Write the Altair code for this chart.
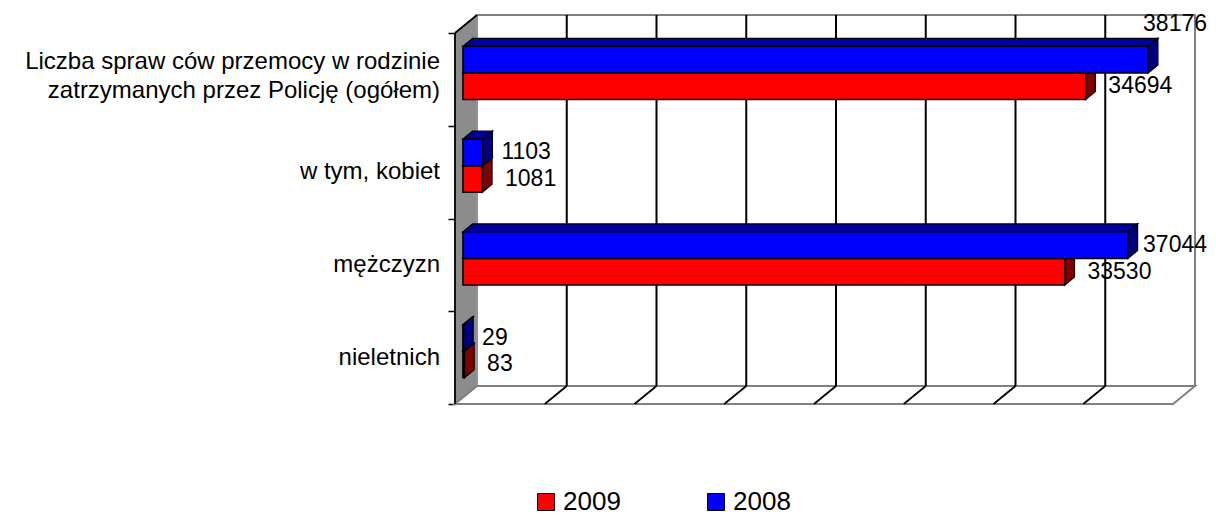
import altair as alt
import pandas as pd

# ---------------- data ----------------
categories = [
    "Liczba spraw ców przemocy w rodzinie\nzatrzymanych przez Policję (ogółem)",
    "w tym, kobiet",
    "mężczyzn",
    "nieletnich",
]
series = ["2009", "2008"]
values_2009 = [34694, 1081, 33530, 83]
values_2008 = [38176, 1103, 37044, 29]
x_ticks = [0, 5000, 10000, 15000, 20000, 25000, 30000, 35000, 40000]
x_max = 40000

# ---------------- geometry / style ----------------
W, H = 740, 389                 # plot area (px)
PAD_L, PAD_T, PAD_R, PAD_B = 447, 7, 13, 112
CANVAS_RIGHT = PAD_L + W + PAD_R  # px, chart coordinates
DEPTH_PX_X, DEPTH_PX_Y = 22, 18  # oblique depth of the 3D box (px)
DX = DEPTH_PX_X * x_max / (W - DEPTH_PX_X)          # depth in value units
BAND_PX = (H - DEPTH_PX_Y) / len(categories)
DY = DEPTH_PX_Y / BAND_PX                            # depth in slot units
U_PER_PX = (x_max + DX) / W
ZF, ZB = 0.36, 0.80              # bar front / back depth (0 = front plane, 1 = back wall)
BAR = 0.286                      # bar thickness in slot units
FONT = "Liberation Sans"
LINE_H = 29
VAL_FS = 23

colors_front = {"2009": "#FF0000", "2008": "#0000FF"}
colors_side = {"2009": "#800000", "2008": "#000080"}
colors_top = {"2009": "#B00000", "2008": "#00009C"}
label_gap = {"2009": 13, "2008": 9}

n = len(categories)
vals = {"2009": values_2009, "2008": values_2008}

front_rows, area_rows, label_rows = [], [], []
for s in series:
    for i, cat in enumerate(categories):
        v = vals[s][i]
        c = n - 1 - i
        lo, hi = (c + 0.5 - BAR, c + 0.5) if s == "2009" else (c + 0.5, c + 0.5 + BAR)
        front_rows.append(dict(series=s, x=ZF * DX, x2=v + ZF * DX, y=lo + ZF * DY, y2=hi + ZF * DY))
        # top face (parallelogram as area)
        pid = f"{s}-{i}-top"
        xs = sorted({ZF * DX, ZB * DX, v + ZF * DX, v + ZB * DX})
        for xx in xs:
            upper = hi + DY * min(xx / DX, ZB)
            lower = hi + DY * max(ZF, (xx - v) / DX)
            area_rows.append(dict(series=s, pid=pid, x=xx, y=lower, y2=upper, fill=colors_top[s]))
        # side face
        pid = f"{s}-{i}-side"
        for z in (ZF, ZB):
            xx = v + z * DX
            area_rows.append(dict(series=s, pid=pid, x=xx, y=lo + DY * z, y2=hi + DY * z, fill=colors_side[s]))
        # value label: lifted above the bar end when it clearly runs off the canvas,
        # nudged left when it only slightly overflows
        text_w = len(str(v)) * 0.556 * VAL_FS
        end_px = (v + ZB * DX) / U_PER_PX + label_gap[s]
        limit_px = CANVAS_RIGHT - PAD_L - text_w - 1
        if end_px > limit_px + 8:
            lx = min((v + ZF * DX) / U_PER_PX, limit_px) * U_PER_PX
            ly = hi + ZB * DY + 14 / BAND_PX
        else:
            lx = min(end_px, limit_px) * U_PER_PX
            ly = (lo + hi) / 2 + ZF * DY
        label_rows.append(dict(series=s, x=lx, y=ly, text=str(v)))

front_df = pd.DataFrame(front_rows)
area_df = pd.DataFrame(area_rows)
label_df = pd.DataFrame(label_rows)

cat_df = pd.DataFrame(dict(
    cat=categories,
    y=[n - 1 - i + 0.5 + (c.count("\n") * (LINE_H / 2 + 3)) / BAND_PX for i, c in enumerate(categories)],
))

xscale = alt.Scale(domain=[0, x_max + DX], nice=False, zero=False)
yscale = alt.Scale(domain=[0, n + DY], nice=False, zero=False)
yaxis = alt.Axis(values=list(range(n + 1)), labels=False, title=None, grid=False, domain=False,
                 ticks=True, tickSize=7, tickColor="black", tickWidth=1.5)


def X(f="x"):
    return alt.X(f"{f}:Q", scale=xscale, axis=None)


def Y(f="y"):
    return alt.Y(f"{f}:Q", scale=yscale, axis=yaxis)


# walls
back_df = pd.DataFrame([dict(x=DX, x2=x_max + DX, y=DY, y2=n + DY)])
back = alt.Chart(back_df).mark_rect(fill="white", stroke="#808080", strokeWidth=2).encode(
    x=X(), x2="x2:Q", y=Y(), y2="y2:Q")

left_df = pd.DataFrame([dict(x=0, y=0, y2=n), dict(x=DX, y=DY, y2=n + DY)])
left = alt.Chart(left_df).mark_area(orient="vertical", fill="#8C8C8C", stroke="#A0A0A0", strokeWidth=1).encode(
    x=X(), y=Y(), y2="y2:Q")

floor_df = pd.DataFrame([dict(x=0, y=0, y2=0), dict(x=DX, y=0, y2=DY),
                         dict(x=x_max, y=0, y2=DY), dict(x=x_max + DX, y=DY, y2=DY)])
floor = alt.Chart(floor_df).mark_area(orient="vertical", fill="white", stroke="#808080", strokeWidth=2).encode(
    x=X(), y=Y(), y2="y2:Q")

grid_df = pd.DataFrame(dict(x=[t + DX for t in x_ticks[1:-1]]))
grid = alt.Chart(grid_df).mark_rule(color="black", strokeWidth=2).encode(
    x=X(), y=alt.datum(DY, scale=yscale), y2=alt.datum(n + DY))

fdiag_df = pd.DataFrame(dict(x=x_ticks[1:-1], x2=[t + DX for t in x_ticks[1:-1]]))
fdiag = alt.Chart(fdiag_df).mark_rule(color="black", strokeWidth=1.8).encode(
    x=X(), x2="x2:Q", y=alt.datum(0, scale=yscale), y2=alt.datum(DY))

edge_df = pd.DataFrame([dict(x=0, x2=0, y=0, y2=n), dict(x=0, x2=DX, y=n, y2=n + DY)])
edges = alt.Chart(edge_df).mark_rule(color="black", strokeWidth=1.8).encode(
    x=X(), x2="x2:Q", y=Y(), y2="y2:Q")

# bars
areas_red = alt.Chart(area_df[area_df.series == "2009"]).mark_area(
    orient="vertical", stroke="black", strokeWidth=1.3, strokeJoin="miter").encode(
    x=X(), y=Y(), y2="y2:Q", color=alt.Color("fill:N", scale=None), detail="pid:N")
areas_blue = alt.Chart(area_df[area_df.series == "2008"]).mark_area(
    orient="vertical", stroke="black", strokeWidth=1.3, strokeJoin="miter").encode(
    x=X(), y=Y(), y2="y2:Q", color=alt.Color("fill:N", scale=None), detail="pid:N")

fronts = alt.Chart(front_df).mark_rect(stroke="black", strokeWidth=1.5).encode(
    x=X(), x2="x2:Q", y=Y(), y2="y2:Q",
    color=alt.Color("series:N",
                    scale=alt.Scale(domain=series, range=[colors_front[s] for s in series]),
                    sort=series,
                    legend=alt.Legend(orient="none", legendX=78, legendY=474, direction="horizontal",
                                      title=None, symbolType="square", symbolSize=289,
                                      symbolStrokeColor="black", symbolStrokeWidth=1,
                                      labelFontSize=26, labelFont=FONT, labelColor="black",
                                      labelOffset=4, columnPadding=82, padding=0)))

values_text = alt.Chart(label_df).mark_text(align="left", baseline="middle", fontSize=VAL_FS, font=FONT,
                                             color="black").encode(
    x=X(), y=Y(), text="text:N")

cat_text = alt.Chart(cat_df).mark_text(align="right", baseline="middle", fontSize=24, font=FONT,
                                        color="black", lineBreak="\n", lineHeight=LINE_H).encode(
    x=alt.value(-15), y=Y(), text="cat:N")

chart = alt.layer(
    back, left, floor, grid, fdiag, edges, areas_red, areas_blue, fronts, values_text, cat_text
).properties(
    width=W, height=H,
    autosize=alt.AutoSizeParams(type="none"),
    padding={"left": PAD_L, "top": PAD_T, "right": PAD_R, "bottom": PAD_B},
    background="white",
).configure_view(stroke=None)

chart.save("out.html", embed_options={"renderer": "svg", "actions": False})
